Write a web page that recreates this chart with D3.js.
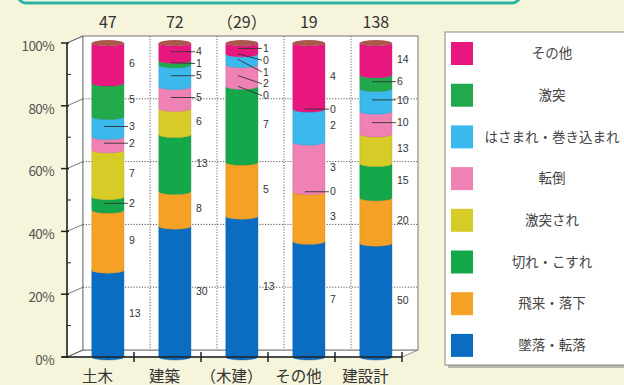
<!DOCTYPE html>
<html><head><meta charset="utf-8">
<script src="https://cdn.jsdelivr.net/npm/d3@7"></script>
<style>
html,body{margin:0;padding:0;background:#f6f4da;}
svg{display:block;font-family:"Noto Sans CJK JP","Noto Sans",sans-serif;}
</style></head>
<body>
<svg id="chart" width="624" height="385"></svg>
<script>
// ---- data ----
const categories = ["土木", "建築", "（木建）", "その他", "建設計"];
const totalLabels = ["47", "72", "（29）", "19", "138"];
const seriesNames = ["墜落・転落", "飛来・落下", "切れ・こすれ", "激突され", "転倒", "はさまれ・巻き込まれ", "激突", "その他"]; // bottom -> top
const fallValues    = [13, 30, 13, 7, 50];
const flyingValues  = [9, 8, 5, 3, 20];
const cutValues     = [2, 13, 7, 0, 15];
const struckValues  = [7, 6, 0, 0, 13];
const tumbleValues  = [2, 5, 2, 3, 10];
const caughtValues  = [3, 5, 1, 2, 10];
const collideValues = [5, 1, 0, 0, 6];
const otherValues   = [6, 4, 1, 4, 14];
const yTicks = [0, 0.2, 0.4, 0.6, 0.8, 1.0];
const yMinorTicks = [0.1, 0.3, 0.5, 0.7, 0.9];

const seriesValues = [fallValues, flyingValues, cutValues, struckValues, tumbleValues, caughtValues, collideValues, otherValues];
const colors = ["#0a6dc1", "#f5a126", "#14a84b", "#d7cb27", "#f081b5", "#3bb8ec", "#22a94c", "#e8177f"];

// ---- layout ----
const svg = d3.select("#chart");
const axisX = 67, rightX = 402;
const dx = 16, dy = -7;
const y = d3.scaleLinear().domain([0, 1]).range([357, 43]);
const x = d3.scaleBand().domain(categories).range([axisX, rightX]).padding(0);
const bw = x.bandwidth();
const barW = bw * 0.48;
const barX = c => x(c) + bw * 0.37;
const ry = 3;

// teal box at top
svg.append("rect").attr("x", 18).attr("y", -40).attr("width", 502).attr("height", 43)
  .attr("rx", 8).attr("fill", "#eef5e4").attr("stroke", "#2fb3a2").attr("stroke-width", 3);

// 3D frame: left wall, floor, back wall
const y0 = y(0), y1 = y(1);
svg.append("path").attr("d", `M${axisX},${y1}L${axisX+dx},${y1+dy}L${axisX+dx},${y0+dy}L${axisX},${y0}Z`)
  .attr("fill", "#fff").attr("stroke", "#777").attr("stroke-width", 0.8);
svg.append("path").attr("d", `M${axisX},${y0}L${axisX+dx},${y0+dy}L${rightX+dx},${y0+dy}L${rightX},${y0}Z`)
  .attr("fill", "#fff").attr("stroke", "#777").attr("stroke-width", 0.8);
svg.append("rect").attr("x", axisX + dx).attr("y", y1 + dy).attr("width", rightX - axisX)
  .attr("height", y0 - y1).attr("fill", "#fff").attr("stroke", "#777").attr("stroke-width", 1);

// gridlines on back wall
yTicks.filter(t => t > 0 && t < 1).forEach(t => {
  svg.append("line").attr("x1", axisX + dx).attr("x2", rightX + dx)
    .attr("y1", y(t) + dy).attr("y2", y(t) + dy)
    .attr("stroke", "#555").attr("stroke-width", 1).attr("stroke-dasharray", "1.2,1.6");
});
// vertical dotted lines on back wall at category boundaries
categories.forEach((c, i) => {
  const bx = x(c) + bw + dx;
  if (i < categories.length - 1)
    svg.append("line").attr("x1", bx).attr("x2", bx).attr("y1", y1 + dy).attr("y2", y0 + dy)
      .attr("stroke", "#666").attr("stroke-width", 1).attr("stroke-dasharray", "1.2,1.6");
});
// diagonals from axis ticks to back wall
yTicks.forEach(t => {
  svg.append("line").attr("x1", axisX).attr("x2", axisX + dx).attr("y1", y(t)).attr("y2", y(t) + dy)
    .attr("stroke", "#555").attr("stroke-width", 0.8);
});

// stacked data
const stack = categories.map((c, ci) => {
  const total = d3.sum(seriesValues, s => s[ci]);
  let acc = 0;
  return seriesValues.map((s, si) => {
    const v = s[ci];
    const seg = { c, ci, si, v, lo: acc / total, hi: (acc + v) / total, total };
    acc += v;
    return seg;
  });
});

// bars (cylinders)
const gBars = svg.append("g");
stack.forEach(segs => {
  segs.forEach(s => {
    if (s.v === 0) return;
    const bx = barX(s.c), yt = y(s.hi), yb = y(s.lo);
    const d = `M${bx},${yt}A${barW/2},${ry} 0 0 0 ${bx+barW},${yt}L${bx+barW},${yb}A${barW/2},${ry} 0 0 1 ${bx},${yb}Z`;
    gBars.append("path").attr("d", d).attr("fill", colors[s.si])
      .attr("stroke", d3.color(colors[s.si]).darker(0.6)).attr("stroke-width", 0.4);
  });
  const c = segs[0].c;
  gBars.append("ellipse").attr("cx", barX(c) + barW / 2).attr("cy", y(1))
    .attr("rx", barW / 2).attr("ry", ry).attr("fill", "#a8584c");
});

// axis
svg.append("line").attr("x1", axisX).attr("x2", axisX).attr("y1", y1).attr("y2", y0)
  .attr("stroke", "#222").attr("stroke-width", 1.5);
svg.append("line").attr("x1", axisX - 5).attr("x2", rightX).attr("y1", y0).attr("y2", y0)
  .attr("stroke", "#222").attr("stroke-width", 1.5);
yTicks.forEach(t => {
  svg.append("line").attr("x1", axisX - 6).attr("x2", axisX + 2).attr("y1", y(t)).attr("y2", y(t))
    .attr("stroke", "#222").attr("stroke-width", 1.5);
  svg.append("text").attr("x", 54).attr("y", y(t) + 3).attr("dy", "0.35em").attr("text-anchor", "end")
    .attr("font-size", 13.5).attr("fill", "#555").attr("letter-spacing", -0.6)
    .text(d3.format(".0%")(t));
});
yMinorTicks.forEach(t => {
  svg.append("line").attr("x1", axisX).attr("x2", axisX + 4).attr("y1", y(t)).attr("y2", y(t))
    .attr("stroke", "#222").attr("stroke-width", 1);
});
categories.forEach(c => {
  const tx = x(c) + bw;
  svg.append("line").attr("x1", tx).attr("x2", tx).attr("y1", y0 - 5).attr("y2", y0 + 5)
    .attr("stroke", "#222").attr("stroke-width", 1.5);
});

// category labels
categories.forEach(c => {
  svg.append("text").attr("x", x(c) + bw / 2 - 3).attr("y", 382).attr("text-anchor", "middle")
    .attr("font-size", 15.5).attr("fill", "#333").text(c);
});
// totals
categories.forEach((c, i) => {
  svg.append("text").attr("x", barX(c) + barW / 2).attr("y", 28).attr("text-anchor", "middle")
    .attr("font-size", 16).attr("fill", "#333").text(totalLabels[i]);
});

// segment count labels
const labelGap = 11.8;
stack.forEach(segs => {
  const items = [];
  segs.slice().reverse().forEach(s => {
    // skip duplicate zero where the segment just below is also zero
    if (s.v === 0 && s.si > 0 && segs[s.si - 1].v === 0) return;
    items.push({ s, mid: y((s.lo + s.hi) / 2) });
  });
  items.forEach((it, i) => {
    it.ly = it.mid;
    if (i === 0) it.ly = Math.max(it.ly, 46);
    if (i > 0 && it.ly < items[i - 1].ly + labelGap) it.ly = items[i - 1].ly + labelGap;
  });
  items.forEach(it => {
    const s = it.s;
    const lx = barX(s.c) + barW + 5;
    const share = s.v / s.total;
    if (Math.abs(it.ly - it.mid) > 2 || share < 0.08) {
      svg.append("line").attr("x1", barX(s.c) + barW / 2 - 4).attr("y1", it.mid)
        .attr("x2", lx - 1).attr("y2", it.ly).attr("stroke", "#333").attr("stroke-width", 0.9);
    }
    svg.append("text").attr("x", lx).attr("y", it.ly).attr("dy", "0.35em")
      .attr("font-family", "'Liberation Sans', Arial, sans-serif")
      .attr("font-size", 10.5).attr("fill", "#333").text(s.v);
  });
});

// legend
const lgX = 445, lgY = 32, lgW = 200, lgH = 333;
svg.append("rect").attr("x", lgX + 3).attr("y", lgY + 3).attr("width", lgW).attr("height", lgH).attr("fill", "#b9b8a8");
svg.append("rect").attr("x", lgX).attr("y", lgY).attr("width", lgW).attr("height", lgH)
  .attr("fill", "#fff").attr("stroke", "#888").attr("stroke-width", 1);
const legendOrder = d3.range(seriesNames.length).reverse();
legendOrder.forEach((si, i) => {
  const cy = 53.5 + i * 41.7;
  svg.append("rect").attr("x", 451).attr("y", cy - 11.5).attr("width", 22).attr("height", 23)
    .attr("fill", colors[si]);
  svg.append("text").attr("x", 552).attr("y", cy).attr("dy", "0.35em").attr("text-anchor", "middle")
    .attr("font-size", 13.5).attr("fill", "#444").text(seriesNames[si]);
});
</script>
</body></html>
